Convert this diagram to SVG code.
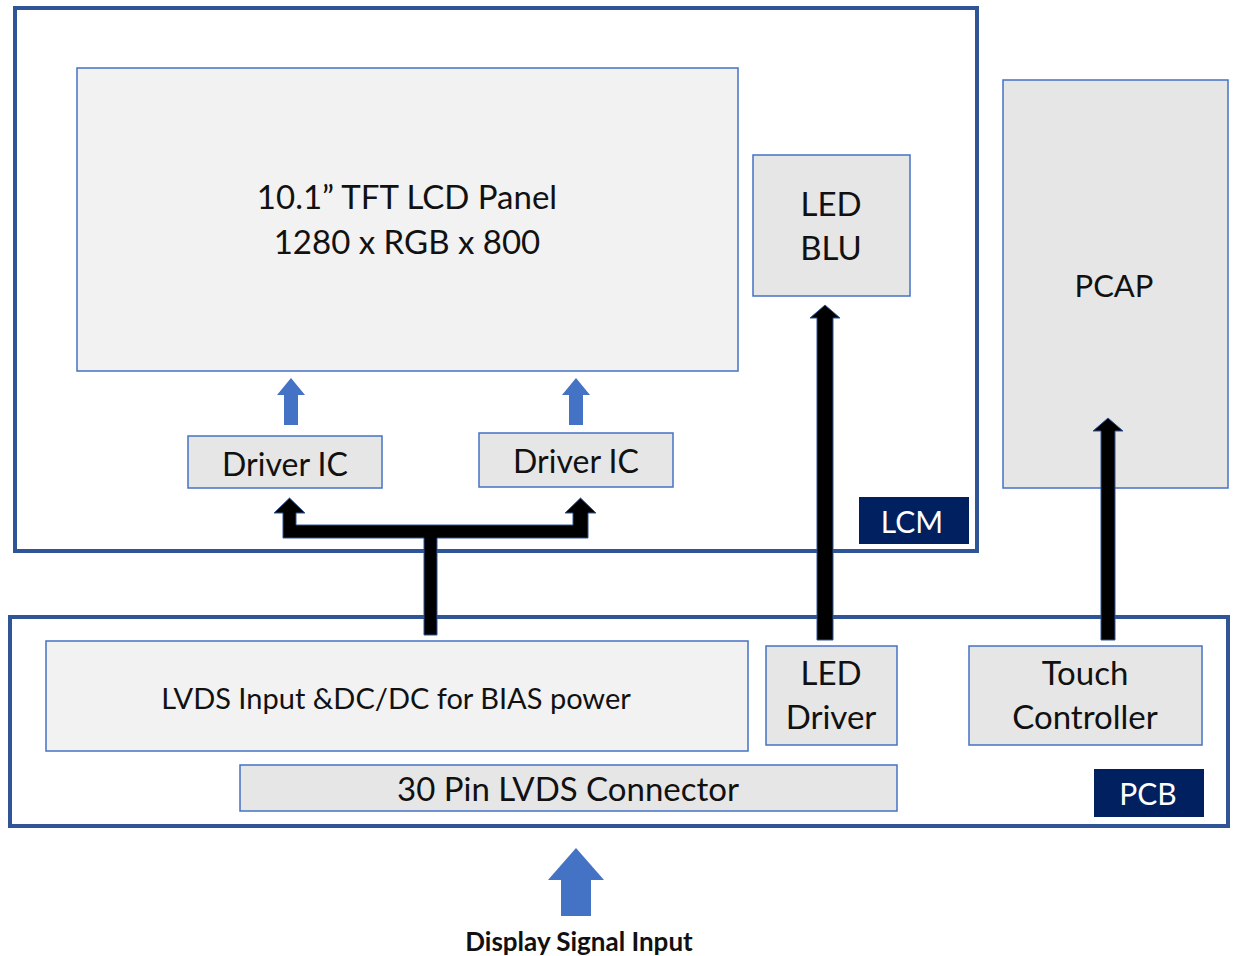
<svg xmlns="http://www.w3.org/2000/svg" width="1234" height="956" viewBox="0 0 1234 956">
<style>
.frame{fill:#fff;stroke:#2F5597;stroke-width:4}
.box{stroke:#4472C4;stroke-width:1.5}
.light{fill:#F2F2F2}
.grey{fill:#E6E6E6}
.lbl{fill:#002060}
text{font-family:"Lato","Liberation Sans",sans-serif;fill:#111;text-anchor:middle;dominant-baseline:central}
.big{font-size:33px}
.mid{font-size:30px}
.drv{font-size:32px}
.sm{font-size:29px}
.white{fill:#fff}
.blk{fill:#000;stroke:#2F5597;stroke-width:1}
.blue{fill:#4472C4}
</style>
<g id="lcm">
<rect class="frame" x="15" y="8" width="962" height="543"/>
<rect class="lbl" x="859" y="497" width="110" height="47"/>
<text class="mid white" x="912" y="521">LCM</text>
</g>
<g id="pcb">
<rect class="frame" x="10" y="617" width="1218" height="209"/>
<rect class="lbl" x="1094" y="769" width="110" height="48"/>
<text class="mid white" x="1148" y="793">PCB</text>
</g>
<g id="panel">
<rect class="box light" x="77" y="68" width="661" height="303"/>
<text class="big" x="407" y="196">10.1” TFT LCD Panel</text>
<text class="big" x="407" y="241">1280 x RGB x 800</text>
</g>
<g id="led-blu">
<rect class="box grey" x="753" y="155" width="157" height="141"/>
<text class="big" x="831" y="203">LED</text>
<text class="big" x="831" y="247">BLU</text>
</g>
<g id="pcap">
<rect class="box grey" x="1003" y="80" width="225" height="408"/>
<text x="1114" y="285" style="font-size:31px">PCAP</text>
</g>
<g id="driver-ic-1">
<rect class="box grey" x="188" y="436" width="194" height="52"/>
<text class="drv" x="285" y="463">Driver IC</text>
</g>
<g id="driver-ic-2">
<rect class="box grey" x="479" y="433" width="194" height="54"/>
<text class="drv" x="576" y="460">Driver IC</text>
</g>
<g id="lvds-input">
<rect class="box light" x="46" y="641" width="702" height="110"/>
<text class="sm" x="396" y="697">LVDS Input &amp;DC/DC for BIAS power</text>
</g>
<g id="led-driver">
<rect class="box grey" x="766" y="646" width="131" height="99"/>
<text class="big" x="831" y="672">LED</text>
<text class="big" x="831" y="716">Driver</text>
</g>
<g id="touch-controller">
<rect class="box grey" x="969" y="646" width="233" height="99"/>
<text class="big" x="1085" y="672">Touch</text>
<text class="big" x="1085" y="716">Controller</text>
</g>
<g id="connector">
<rect class="box grey" x="240" y="765" width="657" height="46"/>
<text class="big" x="568" y="788">30 Pin LVDS Connector</text>
</g>
<g id="input-label">
<text x="579" y="941" style="font-size:26px;font-weight:bold">Display Signal Input</text>
</g>
<g id="connectors">
<path class="blue" d="M291 378 L305 395 L298 395 L298 425 L284 425 L284 395 L277 395 Z"/>
<path class="blue" d="M576 378 L590 395 L583 395 L583 425 L569 425 L569 395 L562 395 Z"/>
<path class="blk" d="M289.5 498 L305 513 L296 513 L296 525 L573 525 L573 513 L565 513 L580.5 498 L596 513 L588 513 L588 538 L437 538 L437 635 L424 635 L424 538 L283 538 L283 513 L274 513 Z"/>
<path class="blk" d="M825 305 L840 318 L833 318 L833 640 L817 640 L817 318 L810 318 Z"/>
<path class="blk" d="M1108 418 L1123 431 L1115 431 L1115 640 L1101 640 L1101 431 L1093 431 Z"/>
<path class="blue" d="M576 848 L604 880 L591 880 L591 916 L561 916 L561 880 L548 880 Z"/>
</g>
</svg>
